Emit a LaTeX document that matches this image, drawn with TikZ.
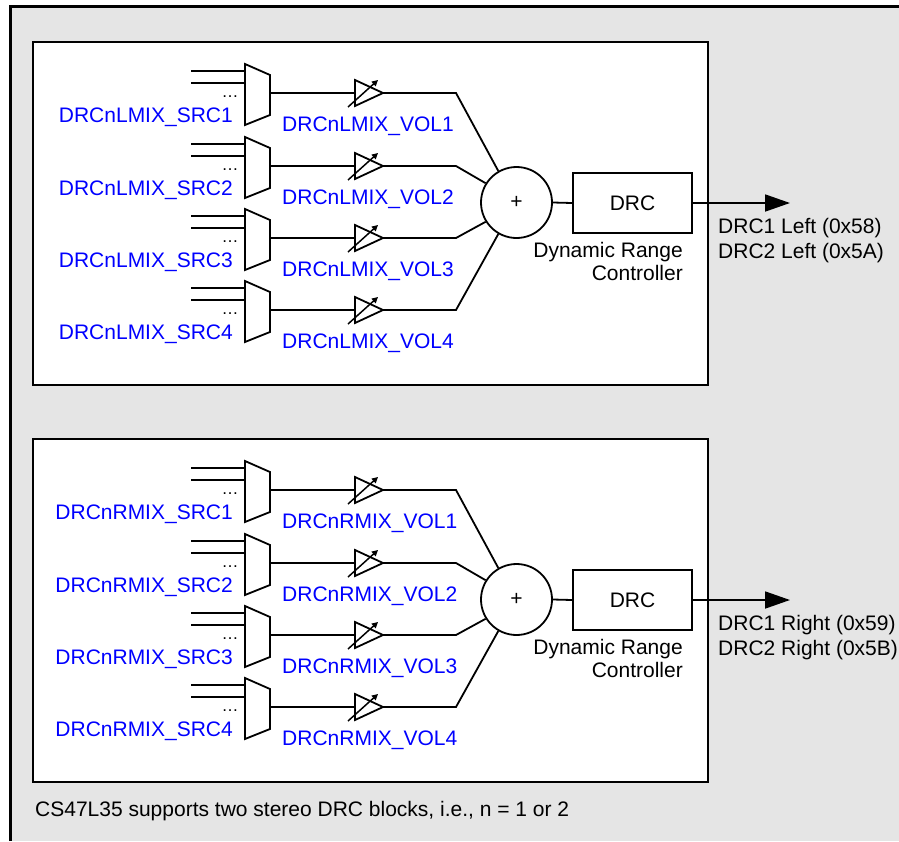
\documentclass[tikz,border=0pt]{standalone}
\usepackage{fontspec}
\setmainfont{Liberation Sans}
\usetikzlibrary{arrows.meta}
\definecolor{bggray}{RGB}{229,229,229}
\definecolor{lblue}{RGB}{0,0,255}
\begin{document}
\begin{tikzpicture}[x=1pt,y=-1pt,
  wire/.style={line width=1.8pt},
  txt/.style={font=\fontsize{21}{25}\selectfont, inner sep=0pt},
  bluetxt/.style={txt, text=lblue},
  panel/.style={draw, fill=white, line width=1.8pt, minimum width=675pt, minimum height=343pt, inner sep=0pt},
  sumnode/.style={draw, circle, wire, minimum size=71pt, inner sep=0pt, font=\fontsize{21}{25}\selectfont},
  drcbox/.style={draw, wire, minimum width=119pt, minimum height=60pt, inner sep=0pt, font=\fontsize{21}{25}\selectfont},
  muxshape/.style={wire, fill=white, line join=miter},
  ampshape/.style={wire, fill=white, line join=miter},
  gainarrow/.style={line width=1.5pt, -{Triangle[length=6pt,width=6pt]}},
  outarrow/.style={wire, -{Triangle[length=25pt,width=17pt]}},
  dots/.style={font=\fontsize{17}{20}\selectfont, inner sep=0pt}
]
\useasboundingbox (0,0) rectangle (899,841);
\fill[bggray] (10,6) rectangle (899,841);
\draw[line width=3pt] (10,841) -- (10,6) -- (899,6);

\foreach \off/\sd/\side/\ra/\rb in {0/L/Left/58/5A, 397/R/Right/59/5B}{
  \node[panel] (box\sd) at (370.5,{213.5+\off}) {};
  \node[sumnode] (sum\sd) at (516.5,{202.5+\off}) {+};
  \node[drcbox] (drc\sd) at (632.5,{203+\off}) {DRC};
  \draw[wire] (sum\sd.east) -- (drc\sd.west);
  \coordinate (out\sd) at (790,{203+\off});
  \draw[outarrow] (drc\sd.east) -- (out\sd);
  \node[txt, anchor=base east] (dyn\sd) at (683,{257+\off}) {Dynamic Range};
  \node[txt, anchor=base east] (ctl\sd) at (683,{280+\off}) {Controller};
  \node[txt, anchor=base west] (lab1\sd) at (718,{233+\off}) {DRC1 \side\ (0x\ra)};
  \node[txt, anchor=base west] (lab2\sd) at (718,{258+\off}) {DRC2 \side\ (0x\rb)};
  \foreach \k/\ang/\yk in {1/120/93,2/148/166,3/212/238,4/240/310}{
    \pgfmathsetmacro\yy{\yk+\off}
    % input lines
    \coordinate (inA\sd\k) at (191,\yy-22);
    \coordinate (inB\sd\k) at (191,\yy-10);
    \coordinate (muxinA\sd\k) at (245,\yy-22);
    \coordinate (muxinB\sd\k) at (245,\yy-10);
    \draw[wire] (inA\sd\k) -- (muxinA\sd\k);
    \draw[wire] (inB\sd\k) -- (muxinB\sd\k);
    \node[dots, anchor=base] (dots\sd\k) at (230,\yy+4) {\dots};
    % mux
    \draw[muxshape] (245,\yy-29) -- (270,\yy-18) -- (270,\yy+22) -- (245,\yy+32) -- cycle;
    \coordinate (mux\sd\k) at (270,\yy);
    % amplifier
    \coordinate (ampin\sd\k) at (355,\yy);
    \coordinate (ampout\sd\k) at (383,\yy);
    \draw[wire] (mux\sd\k) -- (ampin\sd\k);
    \draw[ampshape] (355,\yy-13) -- (ampout\sd\k) -- (355,\yy+13) -- cycle;
    \draw[gainarrow] (348,\yy+14) -- (378,\yy-13);
    % to summer
    \coordinate (bend\sd\k) at (456,\yy);
    \draw[wire, line join=miter] (ampout\sd\k) -- (bend\sd\k) -- (sum\sd.\ang);
    % labels
    \node[bluetxt, anchor=base east] (src\sd\k) at (233,\yy+29) {DRCn\sd MIX\_SRC\k};
    \node[bluetxt, anchor=base west] (vol\sd\k) at (282,\yy+38) {DRCn\sd MIX\_VOL\k};
  }
}
\node[txt, anchor=base west] (note) at (35,816) {CS47L35 supports two stereo DRC blocks, i.e., n = 1 or 2};
\end{tikzpicture}
\end{document}
